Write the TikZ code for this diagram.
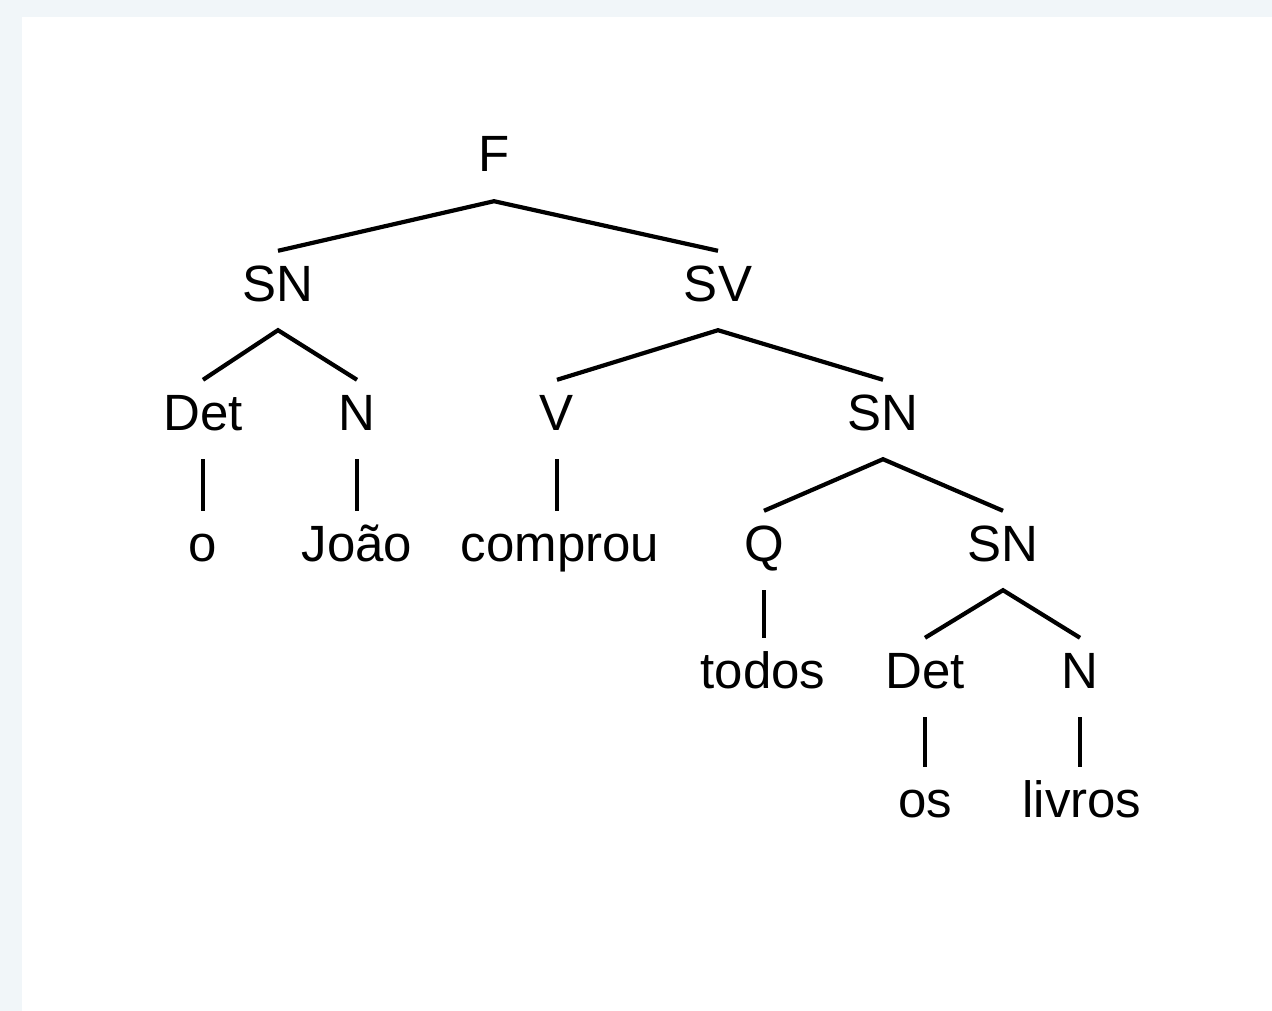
\documentclass[tikz,border=0pt]{standalone}
\usepackage{fontspec}
\setmainfont{Liberation Sans}
\definecolor{pagebg}{RGB}{241,246,249}
\begin{document}
\begin{tikzpicture}[x=1pt,y=-1pt,
  lbl/.style={font=\fontsize{51}{60}\selectfont, inner sep=0pt, anchor=base,
              text height=50pt, text depth=29pt},
  branch/.style={line width=4.2pt, line cap=butt}]
  % page and canvas
  \fill[pagebg] (0,0) rectangle (1272,1011);
  \fill[white] (22,17) rectangle (1272,1011);
  \useasboundingbox (0,0) rectangle (1272,1011);

  % labels (positioned at their baselines)
  \node[lbl] (F)    at (494,172) {F};
  \node[lbl] (SNa)  at (278,301) {SN};
  \node[lbl] (SV)   at (718,301) {SV};
  \node[lbl] (DetA) at (203,430) {Det};
  \node[lbl] (NA)   at (357,430) {N};
  \node[lbl] (V)    at (557,430) {V};
  \node[lbl] (SNb)  at (883,430) {SN};
  \node[lbl] (o)    at (203,561) {o};
  \node[lbl] (joao) at (357,561) {João};
  \node[lbl] (comp) at (560,561) {comprou};
  \node[lbl] (Q)    at (764,561) {Q};
  \node[lbl] (SNc)  at (1003,561) {SN};
  \node[lbl] (todos) at (763,688) {todos};
  \node[lbl] (DetB) at (925,688) {Det};
  \node[lbl] (NB)   at (1080,688) {N};
  \node[lbl] (os)   at (925,817) {os};
  \node[lbl] (livros) at (1082,817) {livros};

  % branches
  \draw[branch] (SNa.north) -- (F.south) -- (SV.north);
  \draw[branch] (DetA.north) -- (SNa.south) -- (NA.north);
  \draw[branch] (V.north) -- (SV.south) -- (SNb.north);
  \draw[branch] (Q.north) -- (SNb.south) -- (SNc.north);
  \draw[branch] (DetB.north) -- (SNc.south) -- (NB.north);

  % terminal links
  \draw[branch] (DetA.south) -- (DetA.south |- o.north);
  \draw[branch] (NA.south) -- (NA.south |- joao.north);
  \draw[branch] (V.south) -- (V.south |- comp.north);
  \draw[branch] (Q.south) -- (Q.south |- todos.north);
  \draw[branch] (DetB.south) -- (DetB.south |- os.north);
  \draw[branch] (NB.south) -- (NB.south |- livros.north);
\end{tikzpicture}
\end{document}
